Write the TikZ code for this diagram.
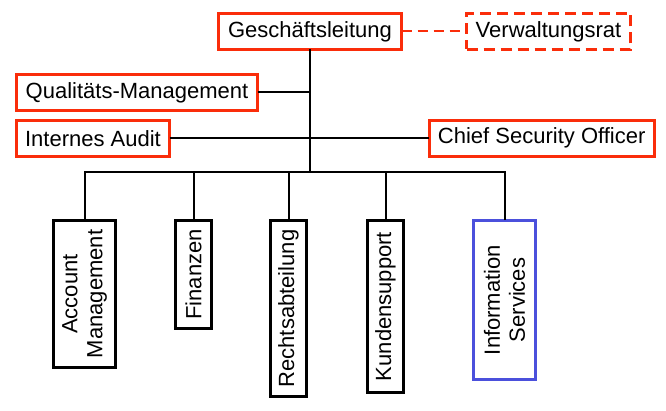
\documentclass[tikz,border=0pt]{standalone}
\usepackage{fontspec}
\setmainfont{Liberation Sans}
\definecolor{boxred}{RGB}{250,45,10}
\definecolor{boxblue}{RGB}{75,80,220}
\begin{document}
\begin{tikzpicture}[x=1pt,y=-1pt,
  every node/.style={font=\fontsize{22}{25}\selectfont, inner sep=0pt, outer sep=0pt, fill=white},
  redbox/.style={draw=boxred, line width=3pt, rectangle},
  redbox dashed/.style={draw=boxred, line width=3pt, rectangle, dash pattern=on 11pt off 6pt},
  blackbox/.style={draw=black, line width=3pt, rectangle, rotate=90, align=center},
  bluebox/.style={draw=boxblue, line width=3pt, rectangle, rotate=90, align=center},
  conn/.style={draw=black, line width=2pt},
  dashconn/.style={draw=boxred, line width=2pt, dash pattern=on 10pt off 6pt}]
\useasboundingbox (0,0) rectangle (666,411);
% top
\node[redbox, minimum width=183, minimum height=36] (gl) at (310,31.5) {Geschäftsleitung};
\node[redbox dashed, minimum width=164, minimum height=36] (vr) at (548.5,31.5) {Verwaltungsrat};
\node[redbox, minimum width=241, minimum height=35.5] (qm) at (137,92.5) {Qualitäts-Management};
\node[redbox, minimum width=153, minimum height=35.5] (ia) at (93,138.3) {Internes Audit};
\node[redbox, minimum width=225, minimum height=35.5] (cso) at (541.7,138.3) {Chief Security Officer};
% bottom
\node[blackbox, minimum width=147, minimum height=62] (acc) at (84.5,294) {Account\\Management};
\node[blackbox, minimum width=108, minimum height=36] (fin) at (193.5,274.5) {Finanzen};
\node[blackbox, minimum width=176, minimum height=36] (rec) at (288.5,308.5) {Rechtsabteilung};
\node[blackbox, minimum width=172, minimum height=36] (kun) at (385.5,306.5) {Kundensupport};
\node[bluebox, minimum width=159, minimum height=62] (inf) at (504.5,300) {Information\\Services};
\coordinate (bar) at (310,172.3);
% connectors
\begin{scope}[on background layer/.try]
\end{scope}
\draw[dashconn] (gl.east) -- (vr.west);
\draw[conn] (gl.south) -- (bar);
\draw[conn] (qm.east) -- (qm.east -| gl.south);
\draw[conn] (ia.east) -- (cso.west);
\draw[conn] (bar) -| (acc.east);
\draw[conn] (bar) -| (fin.east);
\draw[conn] (bar) -| (rec.east);
\draw[conn] (bar) -| (kun.east);
\draw[conn] (bar) -| (inf.east);
\end{tikzpicture}
\end{document}
